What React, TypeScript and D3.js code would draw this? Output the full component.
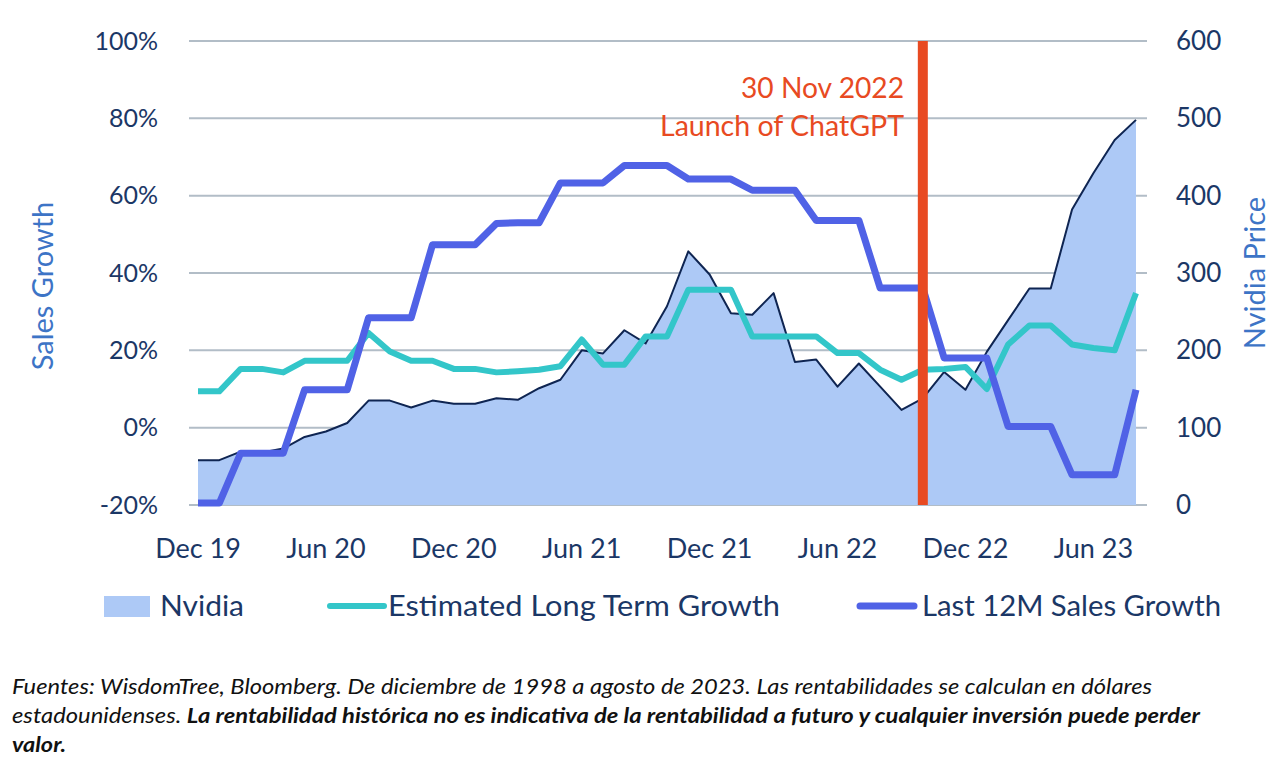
import React from "react";
import * as d3 from "d3";

const months: string[] = [
  "2019-12","2020-01","2020-02","2020-03","2020-04","2020-05","2020-06","2020-07","2020-08","2020-09","2020-10","2020-11",
  "2020-12","2021-01","2021-02","2021-03","2021-04","2021-05","2021-06","2021-07","2021-08","2021-09","2021-10","2021-11",
  "2021-12","2022-01","2022-02","2022-03","2022-04","2022-05","2022-06","2022-07","2022-08","2022-09","2022-10","2022-11",
  "2022-12","2023-01","2023-02","2023-03","2023-04","2023-05","2023-06","2023-07","2023-08"
];

const nvidiaPrice: number[] = [
  58, 58, 69, 68, 73, 88, 95, 106, 135, 135, 126, 135,
  131, 131, 138, 136, 151, 162, 200, 196, 226, 209, 257, 328,
  298, 248, 246, 274, 185, 188, 153, 183, 153, 123, 138, 172,
  149, 198, 239, 280, 280, 382, 429, 472, 498
];

const estLongTermGrowth: number[] = [
  9.4, 9.4, 15.2, 15.2, 14.3, 17.3, 17.3, 17.3, 24.5, 19.7, 17.3, 17.3,
  15.2, 15.2, 14.3, 14.6, 15.0, 15.9, 22.8, 16.3, 16.3, 23.6, 23.6, 35.7,
  35.7, 35.7, 23.6, 23.6, 23.6, 23.6, 19.3, 19.3, 15.0, 12.4, 15.0, 15.2,
  15.7, 10.0, 21.5, 26.4, 26.4, 21.5, 20.6, 20.0, 34.8
];

const last12MSalesGrowth: number[] = [
  -19.5, -19.5, -6.6, -6.6, -6.6, 9.8, 9.8, 9.8, 28.4, 28.4, 28.4, 47.3,
  47.3, 47.3, 52.8, 53.0, 53.0, 63.3, 63.3, 63.3, 67.8, 67.8, 67.8, 64.3,
  64.3, 64.3, 61.4, 61.4, 61.4, 53.6, 53.6, 53.6, 36.1, 36.1, 36.1, 18.0,
  18.0, 18.0, 0.3, 0.3, 0.3, -12.2, -12.2, -12.2, 9.8
];

const leftTicks: number[] = [-20, 0, 20, 40, 60, 80, 100];
const rightTicks: number[] = [0, 100, 200, 300, 400, 500, 600];
const xTickLabels: { month: string; label: string }[] = [
  { month: "2019-12", label: "Dec 19" },
  { month: "2020-06", label: "Jun 20" },
  { month: "2020-12", label: "Dec 20" },
  { month: "2021-06", label: "Jun 21" },
  { month: "2021-12", label: "Dec 21" },
  { month: "2022-06", label: "Jun 22" },
  { month: "2022-12", label: "Dec 22" },
  { month: "2023-06", label: "Jun 23" },
];
const eventMonth = "2022-10";
const eventLabels: string[] = ["30 Nov 2022", "Launch of ChatGPT"];
const legendLabels: string[] = ["Nvidia", "Estimated Long Term Growth", "Last 12M Sales Growth"];

const C = {
  area: "#adc9f6",
  areaLine: "#0f2552",
  teal: "#33c6c9",
  blue: "#5062e6",
  red: "#e84a22",
  grid: "#b2bdc7",
  tick: "#1b3766",
  title: "#3d74c6",
};

const FONT = "Lato, 'Open Sans', sans-serif";

export default function App() {
  const W = 1286, H = 778;
  const x = d3.scalePoint<string>().domain(months).range([198, 1136]);
  const yL = d3.scaleLinear().domain([-20, 100]).range([505, 41]);
  const yR = d3.scaleLinear().domain([0, 600]).range([505, 41]);

  const area = d3.area<number>()
    .x((_, i) => x(months[i])!)
    .y0(yR(0))
    .y1((d) => yR(d));
  const priceLine = d3.line<number>().x((_, i) => x(months[i])!).y((d) => yR(d));
  const pctLine = d3.line<number>().x((_, i) => x(months[i])!).y((d) => yL(d));

  const ex = x(eventMonth)!;

  return (
    <svg width={W} height={H} style={{ position: "absolute", left: 0, top: 0, background: "#fff" }} fontFamily={FONT}>
      {leftTicks.map((t) => (
        <line key={"g" + t} x1={189} x2={1147} y1={yL(t)} y2={yL(t)} stroke={C.grid} strokeWidth={2} />
      ))}
      <path d={area(nvidiaPrice)!} fill={C.area} />
      <path d={priceLine(nvidiaPrice)!} fill="none" stroke={C.areaLine} strokeWidth={2} strokeLinejoin="round" />
      <path d={pctLine(estLongTermGrowth)!} fill="none" stroke={C.teal} strokeWidth={6} strokeLinejoin="round" />
      <path d={pctLine(last12MSalesGrowth)!} fill="none" stroke={C.blue} strokeWidth={7} strokeLinejoin="round" />
      <line x1={ex} x2={ex} y1={41} y2={505} stroke={C.red} strokeWidth={10} />
      <text x={904} y={98} textAnchor="end" fill={C.red} fontSize={28} textLength={163} lengthAdjust="spacingAndGlyphs">{eventLabels[0]}</text>
      <text x={904} y={136} textAnchor="end" fill={C.red} fontSize={28} textLength={244} lengthAdjust="spacingAndGlyphs">{eventLabels[1]}</text>

      {leftTicks.map((t) => (
        <text key={"l" + t} x={158} y={yL(t)} dy="0.35em" textAnchor="end" fill={C.tick} fontSize={25}>{t}%</text>
      ))}
      {rightTicks.map((t) => (
        <text key={"r" + t} x={1176} y={yR(t)} dy="0.35em" textAnchor="start" fill={C.tick} fontSize={26}>{t}</text>
      ))}
      {xTickLabels.map((t) => (
        <text key={t.label} x={x(t.month)!} y={558} textAnchor="middle" fill={C.tick} fontSize={27}>{t.label}</text>
      ))}
      <text transform={`translate(53,286) rotate(-90)`} textAnchor="middle" fill={C.title} fontSize={29}>Sales Growth</text>
      <text transform={`translate(1265,273) rotate(-90)`} textAnchor="middle" fill={C.title} fontSize={29}>Nvidia Price</text>

      <rect x={104} y={596} width={46} height={21} fill={C.area} />
      <text x={160} y={616} fill={C.tick} fontSize={29} textLength={84} lengthAdjust="spacingAndGlyphs">{legendLabels[0]}</text>
      <line x1={330} x2={384} y1={606} y2={606} stroke={C.teal} strokeWidth={6} strokeLinecap="round" />
      <text x={388} y={616} fill={C.tick} fontSize={29} textLength={392} lengthAdjust="spacingAndGlyphs">{legendLabels[1]}</text>
      <line x1={860} x2={914} y1={606} y2={606} stroke={C.blue} strokeWidth={7} strokeLinecap="round" />
      <text x={922} y={616} fill={C.tick} fontSize={29} textLength={299} lengthAdjust="spacingAndGlyphs">{legendLabels[2]}</text>

      <g fontStyle="italic" fontSize={21} fill="#111">
        <text x={12} y={694} textLength={1140} lengthAdjust="spacingAndGlyphs">Fuentes: WisdomTree, Bloomberg. De diciembre de 1998 a agosto de 2023. Las rentabilidades se calculan en dólares</text>
        <text x={12} y={723} textLength={1188} lengthAdjust="spacingAndGlyphs">estadounidenses. <tspan fontWeight="bold">La rentabilidad histórica no es indicativa de la rentabilidad a futuro y cualquier inversión puede perder</tspan></text>
        <text x={12} y={752} fontWeight="bold" textLength={54} lengthAdjust="spacingAndGlyphs">valor.</text>
      </g>
    </svg>
  );
}
